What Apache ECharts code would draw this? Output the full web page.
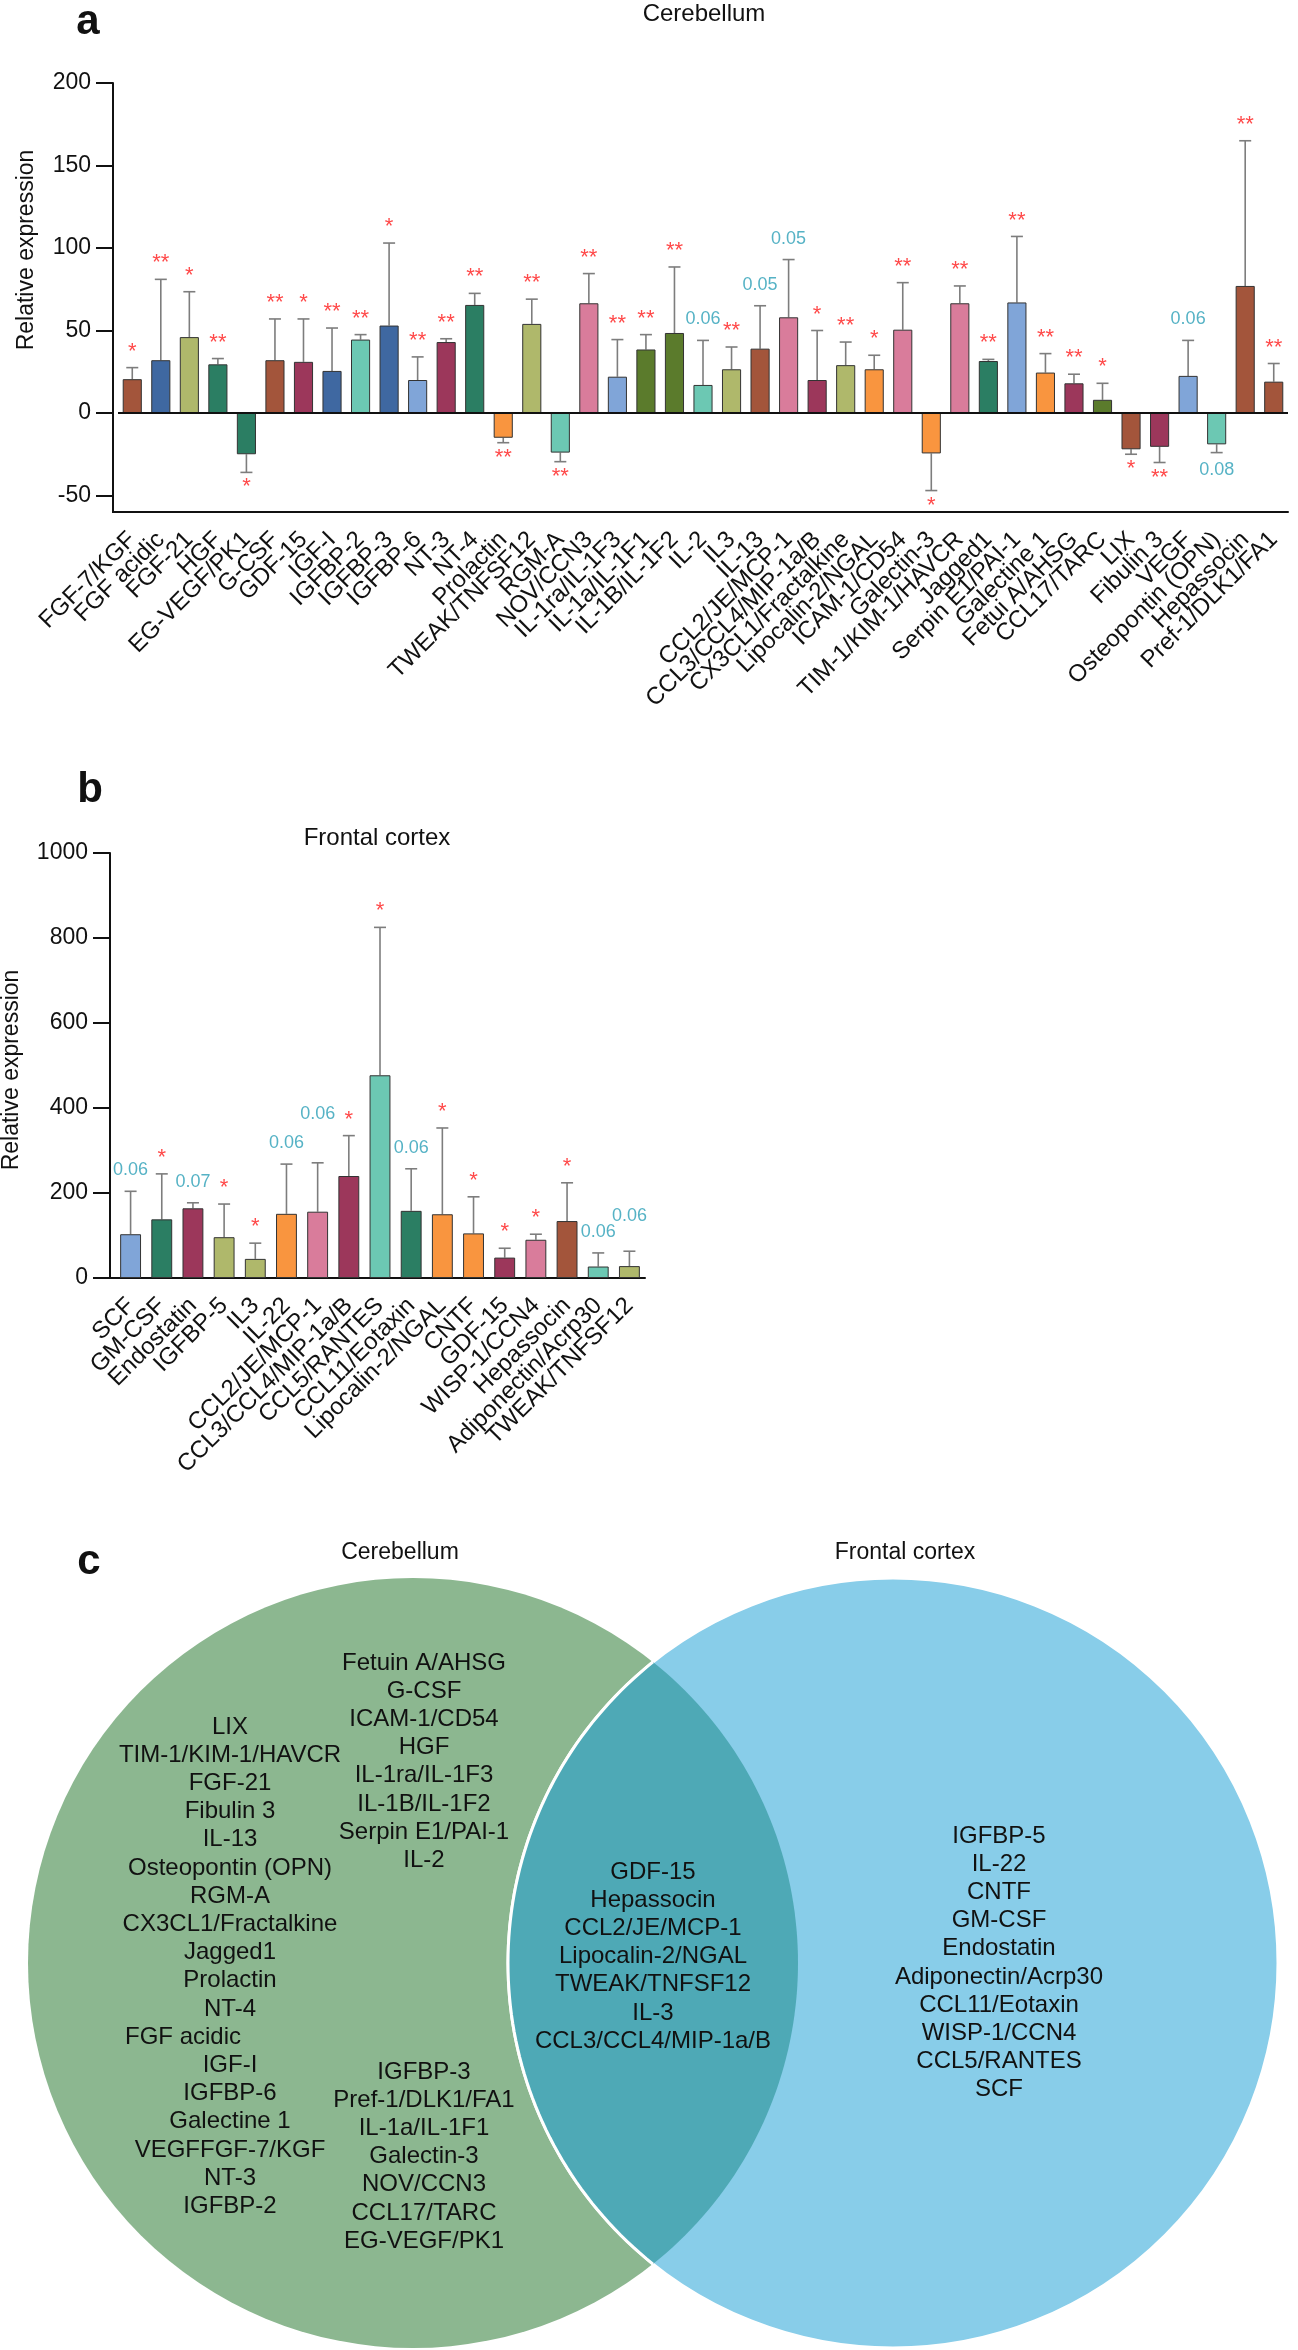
<!DOCTYPE html>
<html><head><meta charset="utf-8">
<script src="https://cdn.jsdelivr.net/npm/echarts@6/dist/echarts.min.js"></script>
<style>html,body{margin:0;padding:0;background:#fff}#c{width:1298px;height:2350px}</style>
</head><body><div id="c"></div>
<script>
// ---------- DATA: panel a (Cerebellum) ----------
const catsA = ['FGF-7/KGF','FGF acidic','FGF-21','HGF','EG-VEGF/PK1','G-CSF','GDF-15','IGF-I','IGFBP-2','IGFBP-3','IGFBP-6','NT-3','NT-4','Prolactin','TWEAK/TNFSF12','RGM-A','NOV/CCN3','IL-1ra/IL-1F3','IL-1a/IL-1F1','IL-1B/IL-1F2','IL-2','IL3','IL-13','CCL2/JE/MCP-1','CCL3/CCL4/MIP-1a/B','CX3CL1/Fractalkine','Lipocalin-2/NGAL','ICAM-1/CD54','Galectin-3','TIM-1/KIM-1/HAVCR','Jagged1','Serpin E1/PAI-1','Galectine 1','Fetui A/AHSG','CCL17/TARC','LIX','Fibulin 3','VEGF','Osteopontin (OPN)','Hepassocin','Pref-1/DLK1/FA1'];
const valsA = [20.5,32,46,29.5,-25,32,31,25.5,44.5,53,20,43,65.5,-15,54,-24,66.5,22,38.5,48.5,17,26.5,39,58,20,29,26.5,50.5,-24.5,66.5,31.5,67,24.5,18,8,-22,-20.5,22.5,-19,77,19];
const sdA   = [7,49,27.5,3.5,11,25,26,26,3,50,14,2,7,3,15,5.5,18,22.5,9,40,27,13.5,26,35,30,14,8.5,28.5,22.5,10.5,1,40,11.5,5.5,10,3,9.5,21.5,5,88,11];
const sigA  = ['*','**','*','**','*','**','*','**','**','*','**','**','**','**','**','**','**','**','**','**','0.06','**','0.05','0.05','*','**','*','**','*','**','**','**','**','**','*','*','**','0.06','0.08','**','**'];
const ticksA = [-50,0,50,100,150,200];

// ---------- DATA: panel b (Frontal cortex) ----------
const catsB = ['SCF','GM-CSF','Endostatin','IGFBP-5','IL3','IL-22','CCL2/JE/MCP-1','CCL3/CCL4/MIP-1a/B','CCL5/RANTES','CCL11/Eotaxin','Lipocalin-2/NGAL','CNTF','GDF-15','WISP-1/CCN4','Hepassocin','Adiponectin/Acrp30','TWEAK/TNFSF12'];
const valsB = [103,138,164,96,45,151,156,240,477,158,150,105,48,90,134,27,28];
const sdB   = [101,107,13,78,37,117,115,95,348,99,203,86,22,13,90,32,35];
const sigB  = ['0.06','*','0.07','*','*','0.06','0.06','*','*','0.06','*','*','*','*','*','0.06','0.06'];
const ticksB = [0,200,400,600,800,1000];

// ---------- DATA: panel c (Venn) ----------
const vennSets = ['Cerebellum','Frontal cortex'];
const cerebOnlyLeft = ['LIX','TIM-1/KIM-1/HAVCR','FGF-21','Fibulin 3','IL-13','Osteopontin (OPN)','RGM-A','CX3CL1/Fractalkine','Jagged1','Prolactin','NT-4','FGF acidic','IGF-I','IGFBP-6','Galectine 1','VEGFFGF-7/KGF','NT-3','IGFBP-2'];
const cerebOnlyUpper = ['Fetuin A/AHSG','G-CSF','ICAM-1/CD54','HGF','IL-1ra/IL-1F3','IL-1B/IL-1F2','Serpin E1/PAI-1','IL-2'];
const cerebOnlyLower = ['IGFBP-3','Pref-1/DLK1/FA1','IL-1a/IL-1F1','Galectin-3','NOV/CCN3','CCL17/TARC','EG-VEGF/PK1'];
const sharedSet = ['GDF-15','Hepassocin','CCL2/JE/MCP-1','Lipocalin-2/NGAL','TWEAK/TNFSF12','IL-3','CCL3/CCL4/MIP-1a/B'];
const frontalOnly = ['IGFBP-5','IL-22','CNTF','GM-CSF','Endostatin','Adiponectin/Acrp30','CCL11/Eotaxin','WISP-1/CCN4','CCL5/RANTES','SCF'];

// ---------- STYLE ----------
const FONT = '"Liberation Sans", Arial, Helvetica, sans-serif';
const PAL = {br:'#a3553b', bl:'#3f68a1', ol:'#afb86b', gr:'#2b7e63', mr:'#9c375b', tl:'#6cc8b3', lb:'#80a5d8', or:'#f9953f', pk:'#d97c9b', dg:'#5b7b2c'};
const colorKeysA = ['br','bl','ol','gr','gr','br','mr','bl','tl','bl','lb','mr','gr','or','ol','tl','pk','lb','dg','dg','tl','ol','br','pk','mr','ol','or','pk','or','pk','gr','lb','or','mr','dg','br','mr','lb','tl','br','br'];
const colorKeysB = ['lb','gr','mr','ol','ol','or','pk','mr','tl','gr','or','or','mr','pk','br','tl','ol'];
const labelOverrideB = {'CCL2/JE/MCP-1': {distance: 40}, 'TWEAK/TNFSF12': {distance: 26}};
const INK = '#111';

function errSeries(ix, vals, sds) {
  return {
    type: 'custom', xAxisIndex: ix, yAxisIndex: ix, z: 1, silent: true,
    data: vals.map((v, i) => [i, v, v + (v < 0 ? -1 : 1) * sds[i]]),
    renderItem: (params, api) => {
      const p0 = api.coord([api.value(0), api.value(1)]);
      const p1 = api.coord([api.value(0), api.value(2)]);
      const hw = 6;
      return {type: 'group', children: [
        {type: 'line', shape: {x1: p0[0], y1: p0[1], x2: p1[0], y2: p1[1]}, style: {stroke: '#7d7d7d', lineWidth: 1.6}},
        {type: 'line', shape: {x1: p1[0] - hw, y1: p1[1], x2: p1[0] + hw, y2: p1[1]}, style: {stroke: '#7d7d7d', lineWidth: 1.6}}
      ]};
    }
  };
}
function sigSeries(ix, vals, sds, sigs, cats, over) {
  over = over || {};
  return {
    type: 'scatter', xAxisIndex: ix, yAxisIndex: ix, symbolSize: 0, silent: true, z: 6,
    data: vals.map((v, i) => {
      const neg = v < 0, end = v + (neg ? -1 : 1) * sds[i];
      const s = sigs[i], star = s.charAt(0) === '*';
      const o = over[cats[i]] || {};
      return {value: [i, end], label: {
        show: s !== '', formatter: s, position: neg ? 'bottom' : 'top',
        distance: o.distance != null ? o.distance : (star ? (neg ? 4 : 5) : (neg ? 8 : 12)),
        color: star ? '#ff1a1a' : '#2a9fb6', fontSize: star ? 22 : 18, fontFamily: FONT
      }};
    })
  };
}
function barSeries(ix, vals, keys, withZero) {
  const s = {
    type: 'bar', xAxisIndex: ix, yAxisIndex: ix, barWidth: '67%', z: 3,
    data: vals.map((v, i) => ({value: v, itemStyle: {color: PAL[keys[i]], borderColor: '#333', borderWidth: 1}}))
  };
  if (withZero) s.markLine = {silent: true, symbol: 'none', label: {show: false},
    lineStyle: {color: INK, width: 2, type: 'solid'}, data: [{yAxis: 0}]};
  return s;
}
function catAxis(ix, cats) {
  return {type: 'category', gridIndex: ix, data: cats, position: 'bottom',
    axisLine: {onZero: false, lineStyle: {color: INK, width: 2}},
    axisTick: {alignWithLabel: true, length: 18, lineStyle: {color: INK, width: 2}},
    axisLabel: {rotate: 45, interval: 0, fontSize: 24, margin: 24, color: INK, fontFamily: FONT}};
}
function valAxis(ix, min, max, ticks) {
  return {type: 'value', gridIndex: ix, min: min, max: max, offset: 5,
    axisLine: {show: true, lineStyle: {color: INK, width: 2}},
    axisTick: {show: true, length: 17, lineStyle: {color: INK, width: 2}, customValues: ticks},
    axisLabel: {fontSize: 23, color: INK, fontFamily: FONT, margin: 22, customValues: ticks, formatter: v => String(v)},
    splitLine: {show: false}};
}

// ---------- VENN GRAPHICS ----------
const G = {cy: 1963, r: 385, c1: 413, c2: 893};
const dx = (G.c2 - G.c1) / 2, h = Math.sqrt(G.r * G.r - dx * dx);
const th = Math.atan2(h, dx);
const arcPts = (cx, a0, a1, n) => {
  const pts = [];
  for (let k = 0; k <= n; k++) { const t = a0 + (a1 - a0) * k / n; pts.push([cx + G.r * Math.cos(t), G.cy + G.r * Math.sin(t)]); }
  return pts;
};
const greenArc = arcPts(G.c1, -th, th, 80);
const blueArc = arcPts(G.c2, Math.PI - th, Math.PI + th, 80);
const LH = 28.2;
const VFONT = '24px ' + FONT;
const T = (s, x, y, font) => ({type: 'text', x: x, y: y, silent: true,
  style: {text: s, fill: INK, font: font || VFONT, textAlign: 'center', textVerticalAlign: 'middle'}});
const listOffsets = {'FGF acidic': -47};
function listText(arr, x, y0) {
  return arr.map((s, i) => T(s, x + (listOffsets[s] || 0), y0 + i * LH));
}
const graphics = [
  T('a', 88, 22, 'bold 42px ' + FONT),
  T('b', 90, 790, 'bold 42px ' + FONT),
  T('c', 89, 1562, 'bold 42px ' + FONT),
  T('Cerebellum', 704, 14, '24px ' + FONT),
  T('Frontal cortex', 377, 838, '24px ' + FONT),
  Object.assign(T('Relative expression', 27, 250, '23px ' + FONT), {rotation: Math.PI / 2}),
  Object.assign(T('Relative expression', 12, 1070, '23px ' + FONT), {rotation: Math.PI / 2}),
  {type: 'line', shape: {x1: 112, y1: 512, x2: 119, y2: 512}, style: {stroke: INK, lineWidth: 2}},
  {type: 'line', shape: {x1: 109, y1: 1278, x2: 116, y2: 1278}, style: {stroke: INK, lineWidth: 2}},
  {type: 'circle', z: 1, shape: {cx: G.c1, cy: G.cy, r: G.r}, style: {fill: '#8cb790'}, silent: true},
  {type: 'circle', z: 2, shape: {cx: G.c2, cy: G.cy, r: G.r}, style: {fill: '#88cde9', stroke: '#fff', lineWidth: 3}, silent: true},
  {type: 'polygon', z: 3, shape: {points: greenArc.concat(blueArc)}, style: {fill: '#4ea9b6'}, silent: true},
  {type: 'polyline', z: 4, shape: {points: blueArc}, style: {stroke: '#fff', lineWidth: 3, fill: null}, silent: true},
  T(vennSets[0], 400, 1553, '23px ' + FONT),
  T(vennSets[1], 905, 1553, '23px ' + FONT)
].concat(
  listText(cerebOnlyLeft, 230, 1727),
  listText(cerebOnlyUpper, 424, 1663),
  listText(cerebOnlyLower, 424, 2072),
  listText(sharedSet, 653, 1872),
  listText(frontalOnly, 999, 1836)
).map(g => (g.z == null ? Object.assign({z: 10}, g) : g));

const option = {
  animation: false,
  backgroundColor: '#fff',
  textStyle: {fontFamily: FONT},
  grid: [
    {left: 118, top: 83, width: 1170, height: 429},
    {left: 115, top: 853, width: 530, height: 425}
  ],
  xAxis: [catAxis(0, catsA), catAxis(1, catsB)],
  yAxis: [valAxis(0, -60, 200, ticksA), valAxis(1, 0, 1000, ticksB)],
  series: [
    barSeries(0, valsA, colorKeysA, true), errSeries(0, valsA, sdA), sigSeries(0, valsA, sdA, sigA, catsA),
    barSeries(1, valsB, colorKeysB, false), errSeries(1, valsB, sdB), sigSeries(1, valsB, sdB, sigB, catsB, labelOverrideB)
  ],
  graphic: graphics
};
const chart = echarts.init(document.getElementById('c'), null, {renderer: 'canvas', width: 1298, height: 2350});
chart.setOption(option);
</script></body></html>
